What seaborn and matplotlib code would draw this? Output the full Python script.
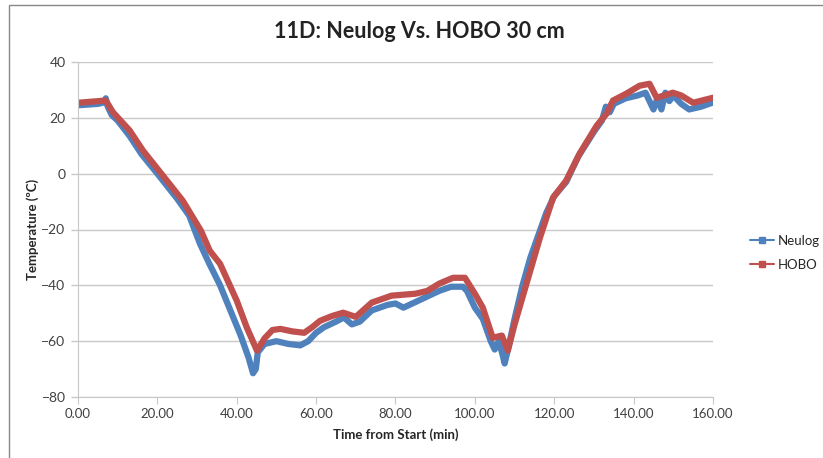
import matplotlib
matplotlib.use("Agg")
import matplotlib.pyplot as plt
from matplotlib.lines import Line2D
from matplotlib.patches import Rectangle
import seaborn as sns
import pandas as pd

# ---- data ----
neulog_t = [0, 5, 6.5, 7, 7.5, 8.5, 10, 13, 16, 20, 25, 28, 30.7, 33, 35.8, 38.4, 41, 43,
            44.1, 44.8, 45.3, 47, 50, 53, 56, 58, 60, 62, 65, 67, 69, 71, 74, 78, 80, 82,
            85, 88, 91, 94, 97, 98, 100, 102, 104, 105, 106, 107, 107.5, 108.5, 110, 112,
            114, 116, 118, 120, 123, 126, 130, 132, 133, 134, 135, 138, 141, 143, 144,
            145, 146, 147, 148, 149, 150, 152, 154, 157, 160]
neulog_v = [24.5, 25, 25.5, 27, 24, 21, 19, 13.5, 7, 0, -9, -15, -25, -32, -40, -49, -58, -66,
            -71.5, -70, -64, -61, -60, -61, -61.5, -60, -57, -55, -53, -51.5, -54, -53, -49,
            -47, -46.5, -48, -46, -44, -42, -40.5, -40.5, -42, -48, -52, -60, -63, -60, -65,
            -68, -62, -52, -40, -30, -22, -14, -8, -3, 6, 15, 19, 24, 22, 25, 27, 28, 29, 26,
            23, 27, 23, 29, 26, 28, 25, 23, 24, 25.5]

hobo_t = [0, 7, 8.8, 13, 16.4, 21, 26.4, 29, 31, 33.2, 35.8, 40, 42.5, 45.1, 47, 49, 51, 54,
          57, 59, 61, 64, 66.8, 70, 74, 79, 85, 88, 91, 94.5, 97.5, 100, 102, 104.5, 106.8,
          108.3, 110, 113, 116.4, 119.7, 123, 126.4, 130.7, 133.2, 134.8, 138.2, 141.5, 144,
          145.8, 149.9, 152, 155, 160]
hobo_v = [25.4, 26.2, 22, 15.5, 8.2, 0, -9.7, -15.8, -20.5, -27.6, -32.3, -45.5, -55, -63.4,
          -59, -56, -55.6, -56.5, -57, -55, -52.7, -51, -49.8, -51.3, -46.2, -43.7, -43, -42,
          -39.4, -37.3, -37.3, -43, -48, -58.8, -58, -63.4, -54, -39.4, -22.9, -8.6, -2.5,
          7.2, 17.2, 21.5, 26.2, 28.7, 31.5, 32.2, 27.2, 29, 28, 25.4, 27.2]

x_ticks = [0, 20, 40, 60, 80, 100, 120, 140, 160]
y_ticks = [-80, -60, -40, -20, 0, 20, 40]
series_names = ["Neulog", "HOBO"]
series_colors = ["#4F81BD", "#C0504D"]

df = pd.concat([
    pd.DataFrame({"t": neulog_t, "v": neulog_v, "s": series_names[0]}),
    pd.DataFrame({"t": hobo_t, "v": hobo_v, "s": series_names[1]}),
])

sns.set_style("white")
plt.rcParams["font.family"] = ["Lato", "DejaVu Sans"]

fig = plt.figure(figsize=(8.23, 4.58), dpi=100)
fig.patches.append(Rectangle((9 / 823, -0.1), 1.2, 1.09, transform=fig.transFigure,
                             fill=False, edgecolor="#888888", linewidth=1.0))
ax = fig.add_axes([78 / 823, 1 - 397 / 458, (713 - 78) / 823, (397 - 62) / 458])

sns.lineplot(data=df, x="t", y="v", hue="s", palette=dict(zip(series_names, series_colors)),
             linewidth=4.5, sort=False, estimator=None, ax=ax, legend=False)

ax.set_xlim(0, 160)
ax.set_ylim(-80, 40)
ax.set_xticks(x_ticks)
ax.set_xticklabels([f"{v:.2f}" for v in x_ticks])
ax.set_yticks(y_ticks)
ax.grid(axis="y", color="#C8C8C8", linewidth=1)
ax.grid(axis="x", visible=False)
for side in ["top", "right", "bottom"]:
    ax.spines[side].set_visible(False)
ax.spines["left"].set_color("#C8C8C8")
ax.tick_params(axis="x", length=0, labelsize=9.5, colors="#404040", pad=8)
ax.tick_params(axis="y", length=5, width=1, color="#C8C8C8", labelsize=10,
               labelcolor="#404040", pad=4, left=True)

sec = ax.secondary_xaxis(0)
sec.set_xticks(x_ticks)
sec.tick_params(length=5, color="#C8C8C8", labelbottom=False)
sec.spines["bottom"].set_color("#C8C8C8")

ax.set_xlabel("Time from Start (min)", fontsize=9.5, fontweight="bold", labelpad=6)
ax.set_ylabel("Temperature (ºC)", fontsize=9.5, fontweight="bold", labelpad=2)
fig.text(0.51, 1 - 32 / 458, "11D: Neulog Vs. HOBO 30 cm", ha="center", va="center",
         fontsize=15.5, fontweight="bold", color="#222222")

handles = [Line2D([], [], color=c, lw=1.5, marker="s", markersize=4) for c in series_colors]
fig.legend(handles, series_names, loc="center left", bbox_to_anchor=(750 / 823, 1 - 253 / 458),
           frameon=False, fontsize=9.5, handlelength=1.8, handletextpad=0.3,
           labelspacing=0.9, borderpad=0, borderaxespad=0)

fig.savefig("out.png", dpi=100)
